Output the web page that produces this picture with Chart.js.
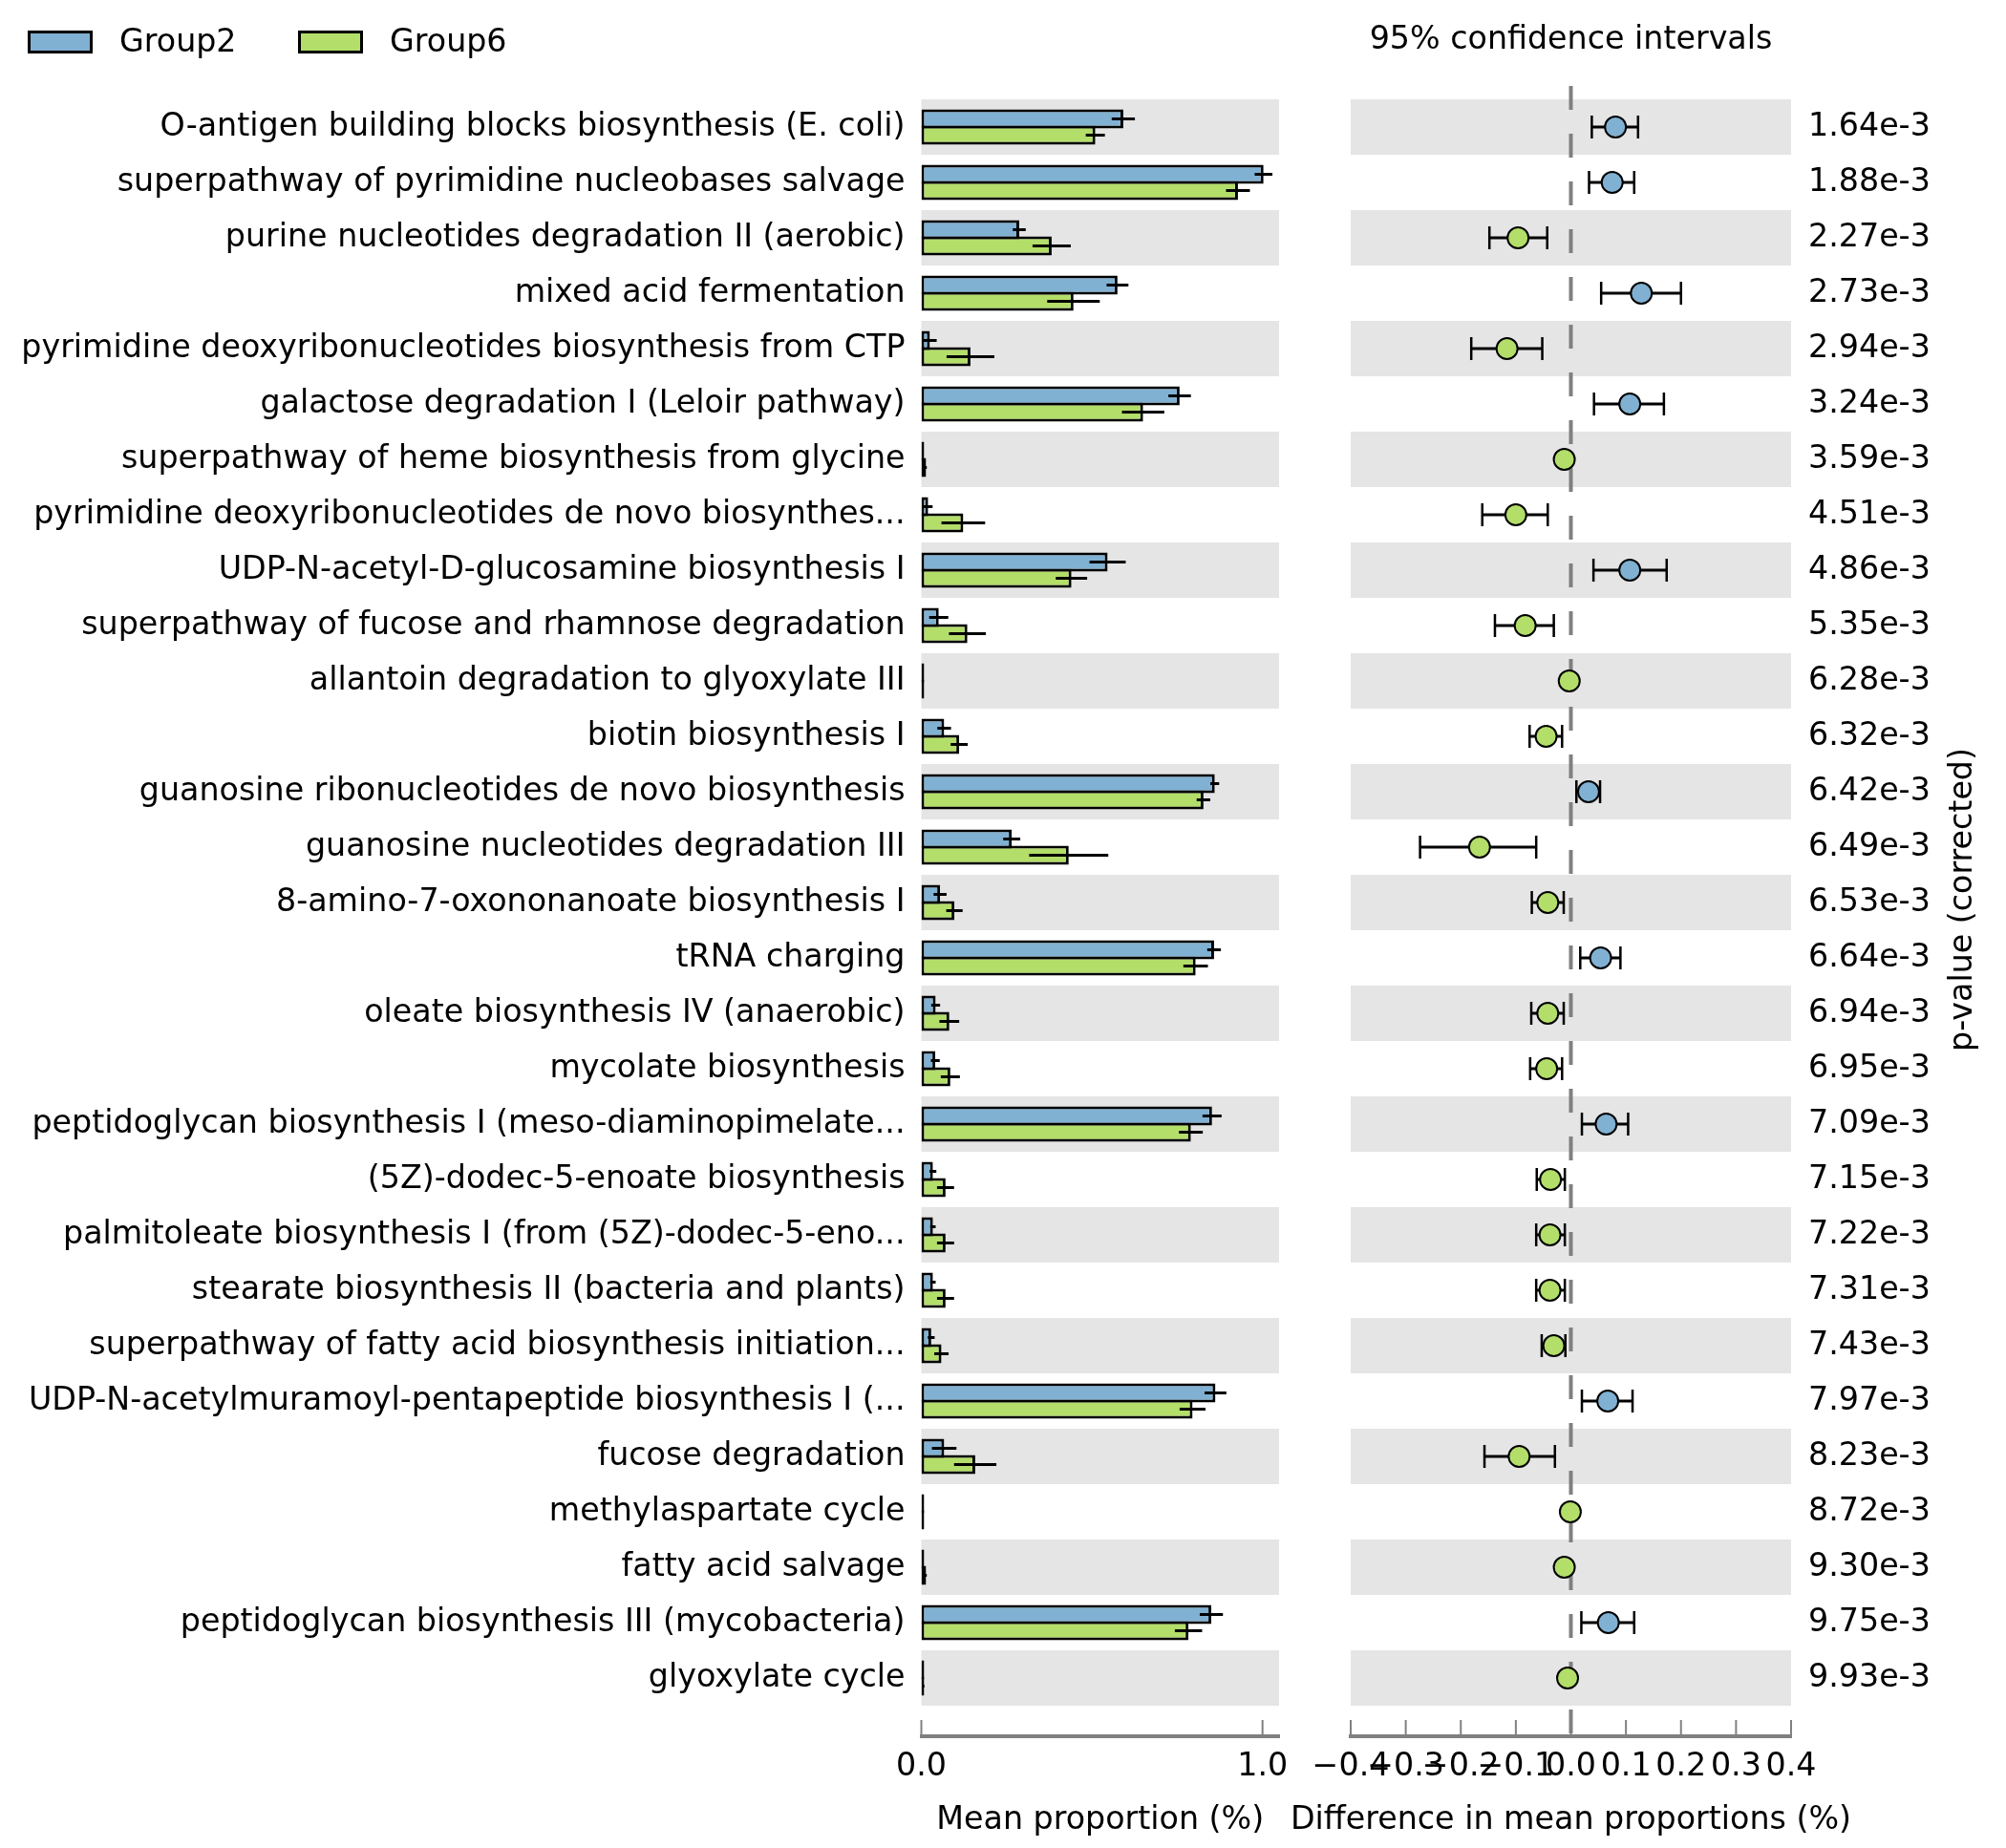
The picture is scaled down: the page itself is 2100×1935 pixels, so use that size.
<!DOCTYPE html>
<html>
<head>
<meta charset="utf-8">
<script src="https://cdn.jsdelivr.net/npm/chart.js@4.4.1/dist/chart.umd.min.js"></script>
<style>
  html, body { margin: 0; padding: 0; background: #fff; }
  #wrap { position: relative; width: 2100px; height: 1935px; font-family: 'DejaVu Sans'; }
  canvas { position: absolute; left: 0; top: 0; }
  .key { position: absolute; top: 32px; width: 62px; height: 18px; border: 3.5px solid #000; }
  .keytext { position: absolute; top: 22px; font-size: 33.3px; line-height: 42px; color: #000; }
</style>
</head>
<body>
<div id="wrap">
  <canvas id="bars" width="2100" height="1935"></canvas>
  <canvas id="ci" width="2100" height="1935"></canvas>
  <div class="key" style="left:29px;background:#80b1d3"></div>
  <div class="keytext" style="left:125px">Group2</div>
  <div class="key" style="left:312px;background:#b3de69"></div>
  <div class="keytext" style="left:408px">Group6</div>
</div>
<script>
// rows, top to bottom
var pathways = [
  'O-antigen building blocks biosynthesis (E. coli)',
  'superpathway of pyrimidine nucleobases salvage',
  'purine nucleotides degradation II (aerobic)',
  'mixed acid fermentation',
  'pyrimidine deoxyribonucleotides biosynthesis from CTP',
  'galactose degradation I (Leloir pathway)',
  'superpathway of heme biosynthesis from glycine',
  'pyrimidine deoxyribonucleotides de novo biosynthes...',
  'UDP-N-acetyl-D-glucosamine biosynthesis I',
  'superpathway of fucose and rhamnose degradation',
  'allantoin degradation to glyoxylate III',
  'biotin biosynthesis I',
  'guanosine ribonucleotides de novo biosynthesis',
  'guanosine nucleotides degradation III',
  '8-amino-7-oxononanoate biosynthesis I',
  'tRNA charging',
  'oleate biosynthesis IV (anaerobic)',
  'mycolate biosynthesis',
  'peptidoglycan biosynthesis I (meso-diaminopimelate...',
  '(5Z)-dodec-5-enoate biosynthesis',
  'palmitoleate biosynthesis I (from (5Z)-dodec-5-eno...',
  'stearate biosynthesis II (bacteria and plants)',
  'superpathway of fatty acid biosynthesis initiation...',
  'UDP-N-acetylmuramoyl-pentapeptide biosynthesis I (...',
  'fucose degradation',
  'methylaspartate cycle',
  'fatty acid salvage',
  'peptidoglycan biosynthesis III (mycobacteria)',
  'glyoxylate cycle'
];
var pValues = ['1.64e-3','1.88e-3','2.27e-3','2.73e-3','2.94e-3','3.24e-3','3.59e-3','4.51e-3','4.86e-3','5.35e-3',
  '6.28e-3','6.32e-3','6.42e-3','6.49e-3','6.53e-3','6.64e-3','6.94e-3','6.95e-3','7.09e-3','7.15e-3',
  '7.22e-3','7.31e-3','7.43e-3','7.97e-3','8.23e-3','8.72e-3','9.30e-3','9.75e-3','9.93e-3'];

var group2Mean = [0.592,1.003,0.287,0.575,0.025,0.757,0.002,0.020,0.546,0.051,0.001,0.067,0.860,0.265,0.055,
  0.858,0.042,0.041,0.852,0.034,0.034,0.034,0.029,0.862,0.067,0.001,0.002,0.850,0.002];
var group2Err = [0.034,0.026,0.019,0.032,0.020,0.033,0,0.013,0.053,0.028,0,0.020,0.013,0.025,0.019,
  0.020,0.013,0.013,0.028,0.010,0.008,0.008,0.010,0.032,0.036,0,0,0.034,0];
var group6Mean = [0.510,0.928,0.382,0.446,0.144,0.650,0.014,0.123,0.440,0.135,0.004,0.111,0.827,0.432,0.097,
  0.804,0.082,0.085,0.790,0.071,0.071,0.071,0.059,0.795,0.158,0.002,0.014,0.783,0.008];
var group6Err = [0.028,0.035,0.056,0.077,0.070,0.062,0.002,0.064,0.046,0.054,0,0.025,0.020,0.116,0.024,
  0.036,0.029,0.028,0.035,0.025,0.025,0.025,0.021,0.038,0.062,0,0.002,0.040,0.001];

var diffMean = [0.081,0.075,-0.096,0.128,-0.116,0.107,-0.012,-0.100,0.107,-0.083,-0.003,-0.045,0.032,-0.166,-0.042,
  0.054,-0.042,-0.044,0.064,-0.037,-0.038,-0.038,-0.031,0.067,-0.094,-0.001,-0.012,0.068,-0.006];
var ciLow = [0.038,0.033,-0.148,0.055,-0.181,0.042,null,-0.161,0.041,-0.138,null,-0.075,0.010,-0.274,-0.071,
  0.017,-0.072,-0.074,0.020,-0.062,-0.063,-0.063,-0.053,0.020,-0.157,null,null,0.019,null];
var ciHigh = [0.122,0.115,-0.043,0.200,-0.052,0.169,null,-0.042,0.174,-0.031,null,-0.016,0.053,-0.063,-0.013,
  0.090,-0.013,-0.016,0.104,-0.011,-0.011,-0.011,-0.010,0.112,-0.029,null,null,0.115,null];

var meanTicks = [0, 1];
var diffTicks = [-0.4, -0.3, -0.2, -0.1, 0, 0.1, 0.2, 0.3, 0.4];

var blue = '#80b1d3', green = '#b3de69', grey = '#808080', bandGrey = '#e5e5e5';
var FONT = { family: 'DejaVu Sans', size: 33.3 };
var rowMin = -0.741, rowMax = 29.052;

Chart.defaults.font.family = 'DejaVu Sans';
Chart.defaults.color = '#000';

// grey band behind every other row
var rowBands = {
  id: 'rowBands',
  beforeDatasetsDraw: function (chart) {
    var ctx = chart.ctx, a = chart.chartArea, y = chart.scales.y;
    ctx.save();
    ctx.fillStyle = bandGrey;
    pathways.forEach(function (_, i) {
      if (i % 2) return;
      var t = y.getPixelForValue(i - 0.5), b = y.getPixelForValue(i + 0.5);
      ctx.fillRect(a.left, Math.min(t, b), a.right - a.left, Math.abs(b - t));
    });
    ctx.restore();
  }
};

// matplotlib style ticks pointing into the plot
var innerTicks = {
  id: 'innerTicks',
  afterDraw: function (chart) {
    var ctx = chart.ctx, a = chart.chartArea, x = chart.scales.x;
    ctx.save();
    ctx.strokeStyle = grey;
    ctx.lineWidth = 2;
    x.ticks.forEach(function (t) {
      var px = x.getPixelForValue(t.value);
      ctx.beginPath();
      ctx.moveTo(px, a.bottom);
      ctx.lineTo(px, a.bottom - 17);
      ctx.stroke();
    });
    ctx.restore();
  }
};

var errorBars = {
  id: 'errorBars',
  afterDatasetsDraw: function (chart) {
    var ctx = chart.ctx, x = chart.scales.x;
    var errs = [group2Err, group6Err];
    ctx.save();
    ctx.strokeStyle = '#000';
    ctx.lineWidth = 3;
    chart.data.datasets.forEach(function (ds, d) {
      chart.getDatasetMeta(d).data.forEach(function (bar, i) {
        var e = errs[d][i];
        if (!e) return;
        var v = ds.data[i].x;
        ctx.beginPath();
        ctx.moveTo(x.getPixelForValue(v - e), bar.y);
        ctx.lineTo(x.getPixelForValue(v + e), bar.y);
        ctx.stroke();
      });
    });
    ctx.restore();
  }
};

var zeroLine = {
  id: 'zeroLine',
  beforeDatasetsDraw: function (chart) {
    var ctx = chart.ctx, a = chart.chartArea, px = chart.scales.x.getPixelForValue(0);
    ctx.save();
    ctx.strokeStyle = grey;
    ctx.lineWidth = 4;
    ctx.setLineDash([25, 25]);
    ctx.beginPath();
    ctx.moveTo(px, a.top);
    ctx.lineTo(px, a.bottom);
    ctx.stroke();
    ctx.restore();
  }
};

var ciWhiskers = {
  id: 'ciWhiskers',
  beforeDatasetsDraw: function (chart) {
    var ctx = chart.ctx, x = chart.scales.x, y = chart.scales.y;
    ctx.save();
    ctx.strokeStyle = '#000';
    diffMean.forEach(function (_, i) {
      if (ciLow[i] == null) return;
      var cy = y.getPixelForValue(i);
      var l = x.getPixelForValue(ciLow[i]), r = x.getPixelForValue(ciHigh[i]);
      ctx.lineWidth = 3;
      ctx.beginPath();
      ctx.moveTo(l, cy); ctx.lineTo(r, cy);
      ctx.stroke();
      ctx.lineWidth = 2.5;
      ctx.beginPath();
      ctx.moveTo(l, cy - 12); ctx.lineTo(l, cy + 12);
      ctx.moveTo(r, cy - 12); ctx.lineTo(r, cy + 12);
      ctx.stroke();
    });
    ctx.restore();
  }
};

// texts that sit off-centre or overflow the panel
var ciText = {
  id: 'ciText',
  afterDraw: function (chart) {
    var ctx = chart.ctx, a = chart.chartArea;
    var mid = (a.left + a.right) / 2;
    ctx.save();
    ctx.fillStyle = '#000';
    ctx.font = '33.3px "DejaVu Sans"';
    ctx.textAlign = 'center';
    ctx.textBaseline = 'middle';
    ctx.fillText('95% confidence intervals', mid, 42);
    ctx.fillText('Difference in mean proportions (%)', mid, 1906);
    ctx.translate(2055, (a.top + a.bottom) / 2 - 12);
    ctx.rotate(-Math.PI / 2);
    ctx.fillText('p-value (corrected)', 0, 0);
    ctx.restore();
  }
};

function barSet(label, values, colour) {
  return {
    label: label,
    data: values.map(function (v, i) { return { x: v, y: i }; }),
    backgroundColor: colour,
    borderColor: '#000',
    borderWidth: 3,
    borderSkipped: false,
    minBarLength: 3,
    categoryPercentage: 0.586,
    barPercentage: 1.176
  };
}

new Chart(document.getElementById('bars'), {
  type: 'bar',
  data: { datasets: [barSet('Group2', group2Mean, blue), barSet('Group6', group6Mean, green)] },
  options: {
    indexAxis: 'y',
    responsive: false,
    animation: false,
    devicePixelRatio: 1,
    events: [],
    layout: { autoPadding: false, padding: { left: 0, right: 761, top: 90, bottom: 0 } },
    plugins: { legend: { display: false }, tooltip: { enabled: false } },
    scales: {
      x: {
        type: 'linear', min: 0, max: 1.0485,
        afterBuildTicks: function (s) { s.ticks = meanTicks.map(function (v) { return { value: v }; }); },
        afterFit: function (s) { s.height = 117; },
        grid: { display: false, drawTicks: false },
        border: { display: true, color: grey, width: 4 },
        ticks: { font: FONT, padding: 12, maxRotation: 0, autoSkip: false,
          callback: function (v) { return v.toFixed(1); } },
        title: { display: true, text: 'Mean proportion (%)', font: FONT, padding: { top: 0, bottom: 9 } }
      },
      y: {
        type: 'linear', reverse: true, offset: false, min: rowMin, max: rowMax,
        afterBuildTicks: function (s) { s.ticks = pathways.map(function (_, i) { return { value: i }; }); },
        afterFit: function (s) { s.width = 964.5; },
        grid: { display: false, drawTicks: false, offset: false },
        border: { display: false },
        ticks: { font: FONT, padding: 17, autoSkip: false,
          callback: function (v) { return pathways[v]; } }
      }
    }
  },
  plugins: [rowBands, errorBars, innerTicks]
});

new Chart(document.getElementById('ci'), {
  type: 'scatter',
  data: {
    datasets: [{
      label: 'difference',
      data: diffMean.map(function (v, i) { return { x: v, y: i }; }),
      pointRadius: 11,
      pointBorderWidth: 2,
      pointBorderColor: '#000',
      pointBackgroundColor: diffMean.map(function (v) { return v > 0 ? blue : green; })
    }]
  },
  options: {
    responsive: false,
    animation: false,
    devicePixelRatio: 1,
    events: [],
    layout: { autoPadding: false, padding: { left: 1414, right: 0, top: 90, bottom: 0 } },
    plugins: { legend: { display: false }, tooltip: { enabled: false } },
    scales: {
      x: {
        type: 'linear', min: -0.4, max: 0.4,
        afterBuildTicks: function (s) { s.ticks = diffTicks.map(function (v) { return { value: v }; }); },
        afterFit: function (s) { s.height = 117; },
        grid: { display: false, drawTicks: false },
        border: { display: true, color: grey, width: 4 },
        ticks: { font: FONT, padding: 12, maxRotation: 0, autoSkip: false,
          callback: function (v) { return (Math.abs(v) < 1e-9 ? 0 : v).toFixed(1).replace('-', '\u2212'); } }
      },
      y: {
        type: 'linear', position: 'right', reverse: true, min: rowMin, max: rowMax,
        afterBuildTicks: function (s) { s.ticks = pValues.map(function (_, i) { return { value: i }; }); },
        afterFit: function (s) { s.width = 225; },
        grid: { display: false, drawTicks: false },
        border: { display: false },
        ticks: { font: FONT, padding: 18, autoSkip: false,
          callback: function (v) { return pValues[v]; } }
      }
    }
  },
  plugins: [rowBands, zeroLine, ciWhiskers, innerTicks, ciText]
});
</script>
</body>
</html>
